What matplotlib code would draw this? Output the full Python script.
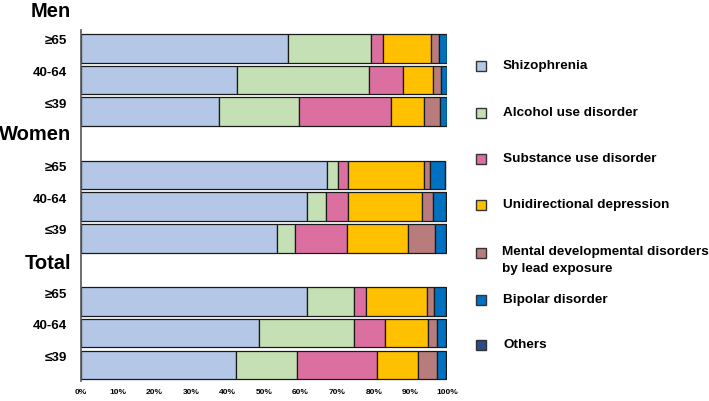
import matplotlib
matplotlib.use("Agg")
import matplotlib.pyplot as plt
from matplotlib.patches import Rectangle
from matplotlib.transforms import ScaledTranslation
import numpy as np

plt.rcParams['font.family'] = ['Liberation Sans', 'DejaVu Sans']

groups = ["Men", "Women", "Total"]
age_labels = ["≥65", "40-64", "≤39"]
categories = ["Shizophrenia", "Alcohol use disorder", "Substance use disorder",
              "Unidirectional depression",
              "Mental developmental disorders\nby lead exposure",
              "Bipolar disorder", "Others"]
colors = ["#B4C7E7", "#C5E0B4", "#DB70A0", "#FFC000", "#B77C7B", "#0070C0", "#2F4A8A"]

# rows: Men ≥65, 40-64, ≤39, Women ≥65, 40-64, ≤39, Total ≥65, 40-64, ≤39
schizophrenia = [56.6, 42.7, 37.7, 67.2, 61.7, 53.6, 61.7, 48.5, 42.3]
alcohol       = [22.7, 36.0, 21.9, 3.1, 5.2, 5.0, 13.0, 26.2, 16.6]
substance     = [3.3, 9.4, 25.0, 2.7, 6.0, 14.2, 3.1, 8.4, 21.9]
depression    = [13.1, 8.1, 9.1, 20.7, 20.4, 16.5, 16.8, 11.8, 11.4]
mental_dev    = [2.1, 2.1, 4.4, 1.7, 3.0, 7.4, 1.8, 2.4, 5.2]
bipolar       = [2.2, 1.7, 1.9, 4.0, 3.4, 3.1, 3.4, 2.5, 2.4]
others        = [0.0, 0.0, 0.0, 0.0, 0.0, 0.0, 0.0, 0.0, 0.0]

series = [schizophrenia, alcohol, substance, depression, mental_dev, bipolar, others]

W, H = 709, 401
fig = plt.figure(figsize=(W / 100, H / 100), dpi=100)
ax = fig.add_axes([81 / W, 1 - 381 / H, 366 / W, 351 / H])

ypos = np.array([0, 1, 2, 4, 5, 6, 8, 9, 10], dtype=float)
left = np.zeros(len(ypos))
for vals, col in zip(series, colors):
    v = np.array(vals)
    ax.barh(ypos, v, left=left, height=0.9, color=col, edgecolor="#1a1a1a", linewidth=0.9)
    left += v

ax.set_xlim(0, 100)
ax.set_ylim(10.51, -0.58)
ax.set_xticks(np.arange(0, 101, 10))
ax.set_xticklabels([f"{t}%" for t in range(0, 101, 10)], fontsize=6, fontweight="bold")
ax.set_yticks(ypos)
ax.set_yticklabels(age_labels * 3, fontsize=9.6, fontweight="bold")
ax.tick_params(axis="y", length=0, pad=10)
ax.tick_params(axis="x", length=0, pad=6)
shift = ScaledTranslation(0, 8.5 / 100, fig.dpi_scale_trans)
for lab in ax.get_yticklabels():
    lab.set_transform(lab.get_transform() + shift)
for s in ["top", "right", "bottom"]:
    ax.spines[s].set_visible(False)
ax.spines["left"].set_color("#555555")
ax.spines["left"].set_linewidth(1.2)

title_y = [-1.18, 2.73, 6.8]
trans = matplotlib.transforms.blended_transform_factory(ax.transAxes, ax.transData)
for g, ty in zip(groups, title_y):
    ax.text(-0.028, ty, g, transform=trans, ha="right", va="center",
            fontsize=14.5, fontweight="bold", clip_on=False)

# legend
leg_y = [66, 112.7, 159, 205, 252.7, 300, 345]
for cat, col, ly in zip(categories, colors, leg_y):
    fig.add_artist(Rectangle((476 / W, 1 - (ly + 5) / H), 10 / W, 10 / H,
                             transform=fig.transFigure, facecolor=col,
                             edgecolor="#333333", linewidth=1.0))
    if "\n" in cat:
        fig.text(502 / W, 1 - (ly - 7) / H, cat, ha="left", va="top",
                 fontsize=9.7, fontweight="bold", linespacing=1.6)
    else:
        fig.text(503 / W, 1 - ly / H, cat, ha="left", va="center",
                 fontsize=9.7, fontweight="bold")

fig.savefig("out.png", dpi=100)
